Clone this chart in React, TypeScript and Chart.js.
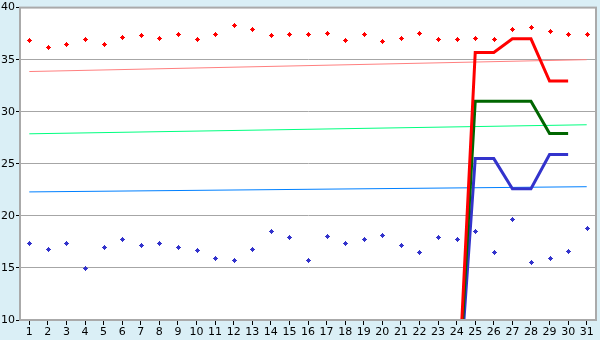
import React, { useEffect, useRef } from 'react';
import { Chart, registerables } from 'chart.js';

Chart.register(...registerables);

const dayLabels = ['1','2','3','4','5','6','7','8','9','10','11','12','13','14','15','16','17','18','19','20','21','22','23','24','25','26','27','28','29','30','31'];

const highPoints = [36.9, 36.2, 36.5, 37.0, 36.5, 37.2, 37.4, 37.1, 37.5, 37.0, 37.5, 38.35, 37.9, 37.4, 37.5, 37.5, 37.6, 36.9, 37.5, 36.8, 37.1, 37.6, 37.0, 37.0, 37.1, 37.0, 37.95, 38.15, 37.8, 37.5, 37.5];
const lowPoints = [17.4, 16.8, 17.4, 15.0, 17.0, 17.8, 17.2, 17.4, 17.0, 16.7, 15.95, 15.8, 16.8, 18.55, 18.0, 15.8, 18.1, 17.4, 17.75, 18.2, 17.2, 16.5, 18.0, 17.75, 18.55, 16.55, 19.7, 15.6, 15.95, 16.65, 18.85];

const N = null;
const redThick = [N,N,N,N,N,N,N,N,N,N,N,N,N,N,N,N,N,N,N,N,N,N,N, 0, 35.7, 35.7, 37.0, 37.0, 32.95, 32.95, N];
const greenThick = [N,N,N,N,N,N,N,N,N,N,N,N,N,N,N,N,N,N,N,N,N,N,N, 0, 31.0, 31.0, 31.0, 31.0, 27.9, 27.9, N];
const blueThick = [N,N,N,N,N,N,N,N,N,N,N,N,N,N,N,N,N,N,N,N,N,N,N, 0, 25.5, 25.5, 22.6, 22.6, 25.9, 25.9, N];

const redTrend = [33.86, N,N,N,N,N,N,N,N,N,N,N,N,N,N,N,N,N,N,N,N,N,N,N,N,N,N,N,N,N, 35.0];
const greenTrend = [27.88, N,N,N,N,N,N,N,N,N,N,N,N,N,N,N,N,N,N,N,N,N,N,N,N,N,N,N,N,N, 28.75];
const blueTrend = [22.3, N,N,N,N,N,N,N,N,N,N,N,N,N,N,N,N,N,N,N,N,N,N,N,N,N,N,N,N,N, 22.8];

const yMin = 10;
const yMax = 40;
const yStep = 5;

const markerPattern = ['..X..', '.XXX.', 'XXXXX', '.XXX.', '..X..'];

const backgroundPlugin = {
  id: 'plotBackground',
  beforeDraw(chart: any) {
    const { ctx, chartArea } = chart;
    ctx.save();
    ctx.fillStyle = '#ffffff';
    ctx.fillRect(chartArea.left, chartArea.top, chartArea.right - chartArea.left, chartArea.bottom - chartArea.top);
    ctx.restore();
  },
};

const markerPlugin = {
  id: 'pixelMarkers',
  afterDatasetsDraw(chart: any) {
    const { ctx } = chart;
    ctx.save();
    chart.data.datasets.forEach((ds: any, i: number) => {
      if (!ds.markerColor) return;
      ctx.fillStyle = ds.markerColor;
      chart.getDatasetMeta(i).data.forEach((pt: any) => {
        const cx = Math.round(pt.x) - 2;
        const cy = Math.round(pt.y) - 2;
        markerPattern.forEach((row, y) => {
          for (let x = 0; x < row.length; x++) if (row[x] === 'X') ctx.fillRect(cx + x, cy + y, 1, 1);
        });
      });
    });
    ctx.restore();
  },
};

const borderPlugin = {
  id: 'plotBorder',
  afterDatasetsDraw(chart: any) {
    const { ctx, chartArea } = chart;
    ctx.save();
    ctx.strokeStyle = '#aaaaaa';
    ctx.lineWidth = 2;
    ctx.strokeRect(chartArea.left, chartArea.top, chartArea.right - chartArea.left, chartArea.bottom - chartArea.top);
    ctx.restore();
  },
};

export default function App() {
  const ref = useRef<HTMLCanvasElement | null>(null);
  useEffect(() => {
    document.body.style.margin = '0';
    const font = { family: 'DejaVu Sans', size: 11 };
    const chart = new Chart(ref.current!, {
      type: 'line',
      data: {
        labels: dayLabels,
        datasets: [
          { data: redThick, borderColor: '#ff0000', borderWidth: 3, pointRadius: 0, spanGaps: false },
          { data: greenThick, borderColor: '#006600', borderWidth: 3, pointRadius: 0, spanGaps: false },
          { data: blueThick, borderColor: '#3333cc', borderWidth: 3, pointRadius: 0, spanGaps: false },
          { data: highPoints, showLine: false, pointRadius: 0, markerColor: '#ff0000' } as any,
          { data: lowPoints, showLine: false, pointRadius: 0, markerColor: '#3333cc' } as any,
          { data: redTrend, borderColor: '#ff8080', borderWidth: 1, pointRadius: 0, spanGaps: true },
          { data: greenTrend, borderColor: '#00ff80', borderWidth: 1, pointRadius: 0, spanGaps: true },
          { data: blueTrend, borderColor: '#0080ff', borderWidth: 1, pointRadius: 0, spanGaps: true },
        ],
      },
      options: {
        animation: false,
        responsive: false,
        events: [],
        layout: { padding: { top: 5, right: 4, left: 0, bottom: 0 } },
        plugins: { legend: { display: false }, tooltip: { enabled: false } },
        scales: {
          x: {
            offset: true,
            grid: { drawOnChartArea: false, drawTicks: true, tickLength: 5, tickColor: '#000000', offset: false },
            border: { color: '#aaaaaa', width: 2 },
            ticks: { color: '#000000', font, padding: 1, maxRotation: 0, autoSkip: false },
            afterFit: (s: any) => { s.height = 20; },
          },
          y: {
            min: yMin,
            max: yMax,
            grid: { color: '#a6a6a6', lineWidth: 1, tickLength: 4, tickColor: '#000000' },
            border: { color: '#aaaaaa', width: 2 },
            ticks: { stepSize: yStep, color: '#000000', font, padding: 1 },
            afterFit: (s: any) => { s.width = 20; },
          },
        },
      },
      plugins: [backgroundPlugin, markerPlugin, borderPlugin],
    });
    return () => chart.destroy();
  }, []);
  return (
    <div style={{ width: 600, height: 340, background: '#daeff6', position: 'absolute', left: 0, top: 0 }}>
      <canvas ref={ref} width={600} height={340} style={{ display: 'block' }} />
    </div>
  );
}
